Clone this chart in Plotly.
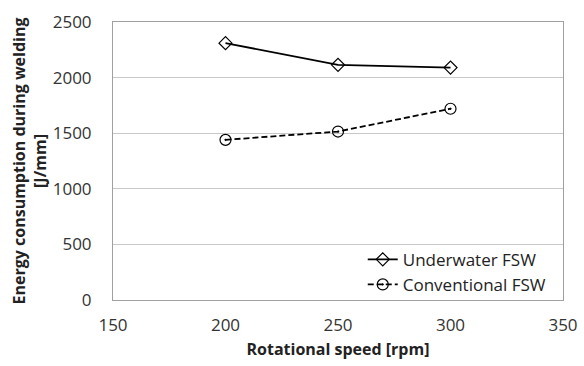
import plotly.graph_objects as go

# Rotational speed (rpm)
speed = [200, 250, 300]
# Energy consumption during welding (J/mm)
underwater = [2310, 2115, 2090]
conventional = [1440, 1515, 1720]

x_ticks = [150, 200, 250, 300, 350]
y_ticks = [0, 500, 1000, 1500, 2000, 2500]

FONT = "Open Sans, Lato, Liberation Sans, sans-serif"

fig = go.Figure()
fig.add_trace(go.Scatter(
    x=speed, y=underwater, name="Underwater FSW", mode="lines+markers",
    line=dict(color="black", width=1.8),
    marker=dict(symbol="diamond-open", size=10, color="black", line=dict(width=1.2)),
))
fig.add_trace(go.Scatter(
    x=speed, y=conventional, name="Conventional FSW", mode="lines+markers",
    line=dict(color="black", width=1.8, dash="6px,3px"),
    marker=dict(symbol="circle-open-dot", size=11, color="black", line=dict(width=1.2)),
))

fig.update_layout(
    width=584, height=366,
    margin=dict(l=113, r=21, t=22, b=66, autoexpand=False),
    paper_bgcolor="white", plot_bgcolor="white",
    font=dict(family=FONT, size=17, color="#333"),
    showlegend=True,
    legend=dict(x=0.975, xanchor="right", y=-0.01, yanchor="bottom",
                bgcolor="rgba(0,0,0,0)", font=dict(size=17, color="#222"),
                tracegroupgap=0, itemwidth=30),
    xaxis=dict(range=[150, 350], tickvals=x_ticks, showgrid=False,
               showline=True, linecolor="#a0a0a0", linewidth=1, mirror=True,
               ticks="", zeroline=False, ticklabelstandoff=10,
               title=dict(text="<b>Rotational speed [rpm]</b>", font=dict(size=16, color="#222"),
                          standoff=8)),
    yaxis=dict(range=[0, 2500], tickvals=y_ticks, showgrid=True, gridcolor="#c8c8c8",
               gridwidth=1, showline=True, linecolor="#a0a0a0", linewidth=1, mirror=True,
               ticks="", zeroline=False, ticklabelstandoff=17,
               title=dict(text="<b>Energy consumption during welding<br>[J/mm]</b>",
                          font=dict(size=16, color="#222"), standoff=2)),
)

fig.write_html("out.html")
